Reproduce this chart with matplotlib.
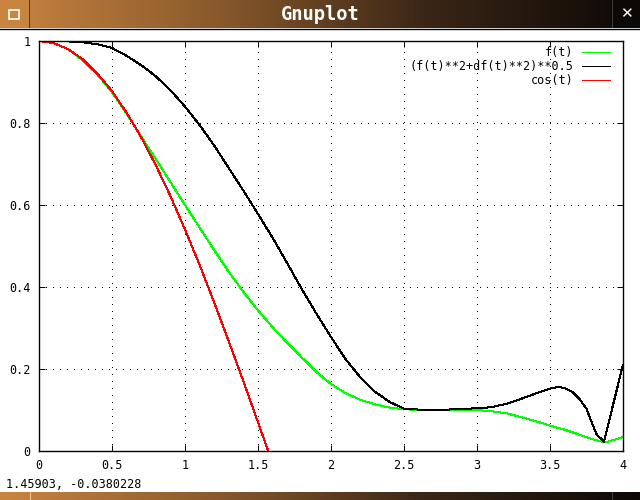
import matplotlib
matplotlib.use("Agg")
import matplotlib.pyplot as plt
import numpy as np

# values
t_cos = [0.0, 0.1, 0.2, 0.3, 0.4, 0.5, 0.6, 0.7, 0.8, 0.9, 1.0, 1.1, 1.2, 1.3, 1.4, 1.5, 1.57]
cos_t = [1.0, 0.995, 0.98, 0.955, 0.92, 0.878, 0.825, 0.765, 0.697, 0.622, 0.54, 0.454,
         0.362, 0.267, 0.17, 0.07, 0.0]

t_f = [0.0, 0.1, 0.2, 0.3, 0.4, 0.5, 0.6, 0.7, 0.8, 0.9, 1.0, 1.1, 1.2, 1.3, 1.4, 1.5,
       1.6, 1.7, 1.8, 1.9, 2.0, 2.1, 2.2, 2.3, 2.4, 2.5, 2.6, 2.7, 2.8, 2.9, 3.0, 3.1,
       3.2, 3.3, 3.4, 3.5, 3.6, 3.7, 3.8, 3.87, 3.9, 4.0]
f_t = [1.0, 0.995, 0.98, 0.953, 0.918, 0.875, 0.823, 0.767, 0.712, 0.656, 0.60, 0.545,
       0.49, 0.437, 0.388, 0.343, 0.302, 0.264, 0.228, 0.193, 0.163, 0.141, 0.125, 0.114,
       0.106, 0.102, 0.100, 0.100, 0.100, 0.100, 0.100, 0.097, 0.092, 0.083, 0.073,
       0.062, 0.052, 0.040, 0.028, 0.022, 0.023, 0.034]

t_n = [0.0, 0.1, 0.2, 0.3, 0.4, 0.5, 0.6, 0.7, 0.8, 0.9, 1.0, 1.1, 1.2, 1.3, 1.4, 1.5,
       1.6, 1.7, 1.8, 1.9, 2.0, 2.1, 2.2, 2.3, 2.4, 2.5, 2.6, 2.7, 2.8, 2.9, 3.0, 3.1,
       3.2, 3.3, 3.4, 3.5, 3.55, 3.6, 3.65, 3.7, 3.75, 3.78, 3.82, 3.87, 3.93, 4.0]
norm_t = [1.0, 1.0, 0.999, 0.997, 0.992, 0.983, 0.964, 0.941, 0.914, 0.88, 0.84, 0.795,
          0.745, 0.69, 0.635, 0.578, 0.52, 0.458, 0.395, 0.335, 0.278, 0.224, 0.18,
          0.145, 0.12, 0.103, 0.101, 0.101, 0.101, 0.103, 0.104, 0.107, 0.115, 0.127,
          0.14, 0.152, 0.156, 0.154, 0.145, 0.128, 0.103, 0.075, 0.04, 0.023, 0.11, 0.21]

labels = ["f(t)", "(f(t)**2+df(t)**2)**0.5", "cos(t)"]
status = "1.45903, -0.0380228"

plt.rcParams['font.family'] = ['DejaVu Sans Mono']
lw = 0.72  # one pixel

fig = plt.figure(figsize=(6.4, 5.0), dpi=100)
fig.patch.set_facecolor("white")

# window decorations: title bar and bottom bar
grad = np.linspace(0, 1, 256).reshape(1, -1)
cmap = matplotlib.colors.LinearSegmentedColormap.from_list(
    "wm", ["#c98540", "#8a5a2c", "#3a2616", "#0c0806"])
bar = fig.add_axes([0, 1 - 28 / 500, 1, 28 / 500])
bar.imshow(grad, aspect="auto", cmap=cmap, extent=[0, 640, 0, 28])
bar.add_patch(plt.Rectangle((0, 0), 28, 28, color="#c98540"))
bar.add_patch(plt.Rectangle((612, 0), 28, 28, color="#0c0806"))
bar.axvline(28.5, color="#5a3a1c", lw=0.8)
bar.axvline(611.5, color="#3a3a3a", lw=0.8)
bar.add_patch(plt.Rectangle((9, 9), 10, 9, fill=False, ec="white", lw=1.2))
bar.text(320, 14, "Gnuplot", color="white", fontsize=13.5, fontweight="bold",
         ha="center", va="center")
bar.text(626, 14, "\u2715", color="white", fontsize=11, fontweight="bold",
         ha="center", va="center", family="DejaVu Sans")
bar.set_xlim(0, 640)
bar.set_ylim(0, 28)
bar.axis("off")
fig.add_artist(plt.Line2D([0, 1], [1 - 28.5 / 500, 1 - 28.5 / 500], color="black", lw=1))

bot = fig.add_axes([0, 0, 1, 8 / 500])
bot.imshow(grad, aspect="auto", cmap=cmap, extent=[0, 640, 0, 8])
bot.axvline(29.5, color="#f0c090", lw=0.8)
bot.axvline(611.5, color="#3a3a3a", lw=0.8)
bot.set_xlim(0, 640)
bot.set_ylim(0, 8)
bot.axis("off")

fig.text(6 / 640, 1 - 485 / 500, status, fontsize=8.5, va="center", ha="left")

# plot
ax = fig.add_axes([39 / 640, 49 / 500, 584 / 640, 410 / 500])
ax.plot(t_f, f_t, color="#00ff00", lw=lw, label=labels[0], antialiased=False)
ax.plot(t_n, norm_t, color="black", lw=lw, label=labels[1], antialiased=False)
ax.plot(t_cos, cos_t, color="#ff0000", lw=lw, label=labels[2], antialiased=False)

ax.set_xlim(0, 4)
ax.set_ylim(0, 1)
ax.set_xticks(np.arange(0, 4.01, 0.5))
ax.set_yticks(np.arange(0, 1.01, 0.2))
ax.set_xticklabels(["0", "0.5", "1", "1.5", "2", "2.5", "3", "3.5", "4"])
ax.set_yticklabels(["0", "0.2", "0.4", "0.6", "0.8", "1"])
ax.tick_params(direction="in", length=4, width=lw, top=True, right=True,
               labelsize=8.5, pad=6)
ax.grid(True, color="black", lw=lw, linestyle=(0, (1, 6)), antialiased=False)
for s in ax.spines.values():
    s.set_linewidth(1.0)

ax.legend(loc="upper right", frameon=False, markerfirst=False, fontsize=8.5,
          handlelength=2.4, handletextpad=0.7, labelspacing=0.1,
          borderaxespad=0, borderpad=0,
          bbox_to_anchor=(1 - 13 / 584, 1 - 5 / 410))

fig.savefig("out.png", dpi=100)
